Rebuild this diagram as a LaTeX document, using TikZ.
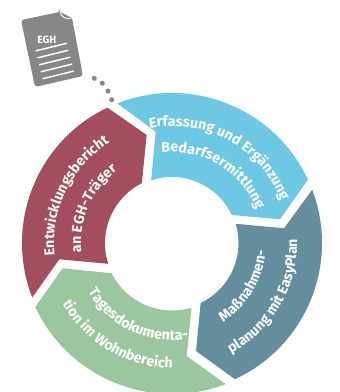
\documentclass[tikz,border=0pt]{standalone}
\usepackage{fontspec}
\setmainfont{Fira Sans}
\usetikzlibrary{decorations.text,calc}
\definecolor{ringblue}{HTML}{6EC7E3}
\definecolor{ringslate}{HTML}{648D9E}
\definecolor{ringgreen}{HTML}{9CC6A0}
\definecolor{ringred}{HTML}{A34E5E}
\definecolor{docgray}{HTML}{878787}
\newcommand{\ringfont}{\fontsize{14.2}{16}\selectfont\bfseries\color{white}}
% radius, start angle, end angle, text
\newcommand{\ringtext}[4]{\path[decorate,decoration={text along path,text align=center,text={|\ringfont|#4}}] (c) ++(#2:#1pt) arc[start angle=#2,end angle=#3,radius=#1pt];}
\tikzset{docline/.style={white,line width=1.5pt},dotmark/.style={circle,fill=docgray,minimum size=5pt,inner sep=0pt}}
\begin{document}
\begin{tikzpicture}[x=1pt,y=1pt]
\useasboundingbox (0,0) rectangle (340,392);
\clip (0,0) rectangle (340,392);
\coordinate (c) at (172,149);
% segments
\fill[ringblue] (c) ++(111.4:150pt) arc[start angle=111.4,end angle=25,radius=150pt] -- (280,172.7) -- ($(c)+(25.1:66pt)$) arc[start angle=25.1,end angle=108.4,radius=66pt] -- (155.7,260.3) -- cycle;
\fill[ringslate] (c) ++(20.8:150pt) arc[start angle=20.8,end angle=-65.2,radius=150pt] -- (196,41) -- ($(c)+(-64.5:66.5pt)$) arc[start angle=-64.5,end angle=16.8,radius=66.5pt] -- (284,163.7) -- cycle;
\fill[ringgreen] (c) ++(-69.2:151pt) arc[start angle=-69.2,end angle=-154.9,radius=151pt] -- (62.7,123.7) -- ($(c)+(-153.3:67.5pt)$) arc[start angle=-153.3,end angle=-73.2,radius=67.5pt] -- (186.7,36) -- cycle;
\fill[ringred] (c) ++(201.3:150pt) arc[start angle=201.3,end angle=115.5,radius=150pt] -- (146.7,257) -- ($(c)+(116.8:67pt)$) arc[start angle=116.8,end angle=198.1,radius=67pt] -- (59.3,132.7) -- cycle;
% ring texts
\ringtext{117}{130}{-8}{Erfassung und Ergänzung}
\ringtext{91}{130}{-12}{Bedarfsermittlung}
\ringtext{94}{-100}{38}{Maßnahmen-}
\ringtext{125}{-100}{40}{planung mit EasyPlan}
\ringtext{97}{-183}{-47}{Tagesdokumenta-}
\ringtext{125}{-189}{-52}{tion im Wohnbereich}
\ringtext{118}{224}{84}{Entwicklungsbericht}
\ringtext{91}{226}{87}{an EGH-Träger}
% document
\fill[docgray,rounded corners=3pt] (21,372) -- (60,380) [sharp corners] -- (60,380) -- (72,374) [rounded corners=3pt] -- (83,316) -- (35,305) -- cycle;
\begin{scope}[shift={(54.7,331)},rotate=13.8]
\node[white,font=\fontsize{10.5}{11}\selectfont\bfseries] (egh) at (-2.5,22.5) {EGH};
\foreach \i in {-2,...,2} \draw[docline] (-16,-\i*7.17) -- (16,-\i*7.17);
\end{scope}
\draw[white,line width=0.9pt] (60,380) .. controls (61,375) and (66,372) .. (72,374);
% dots
\node[dotmark] (d1) at (94.3,313.7) {};
\node[dotmark] (d2) at (102.3,308.7) {};
\node[dotmark] (d3) at (108,301) {};
\node[dotmark] (d4) at (111.7,292.3) {};
\end{tikzpicture}
\end{document}
